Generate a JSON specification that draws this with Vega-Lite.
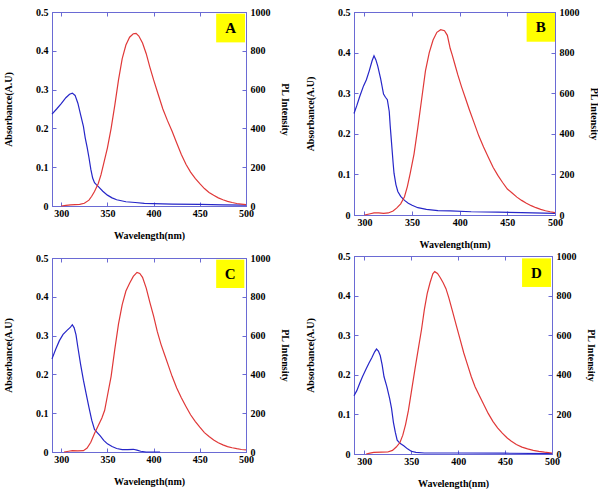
{
  "$schema": "https://vega.github.io/schema/vega-lite/v6.json",
  "padding": {"left": 3, "top": 6, "right": 0, "bottom": 0},
  "background": "white",
  "datasets": {
    "absA": [
      {"wl": 290, "abs": 0.237}, {"wl": 295, "abs": 0.25}, {"wl": 300, "abs": 0.264}, {"wl": 305, "abs": 0.279},
      {"wl": 309, "abs": 0.288}, {"wl": 312, "abs": 0.291}, {"wl": 315, "abs": 0.285}, {"wl": 318, "abs": 0.265},
      {"wl": 321, "abs": 0.235}, {"wl": 324, "abs": 0.205}, {"wl": 326, "abs": 0.175}, {"wl": 328, "abs": 0.152},
      {"wl": 330, "abs": 0.125}, {"wl": 332, "abs": 0.095}, {"wl": 334, "abs": 0.072}, {"wl": 336, "abs": 0.06},
      {"wl": 338, "abs": 0.055}, {"wl": 341, "abs": 0.048}, {"wl": 345, "abs": 0.038}, {"wl": 350, "abs": 0.028},
      {"wl": 355, "abs": 0.021}, {"wl": 360, "abs": 0.016}, {"wl": 370, "abs": 0.011}, {"wl": 380, "abs": 0.009},
      {"wl": 390, "abs": 0.007}, {"wl": 400, "abs": 0.006}, {"wl": 420, "abs": 0.005}, {"wl": 450, "abs": 0.004},
      {"wl": 475, "abs": 0.003}, {"wl": 500, "abs": 0.002}
    ],
    "plA": [
      {"wl": 300, "pl": 0}, {"wl": 305, "pl": 3}, {"wl": 310, "pl": 6}, {"wl": 315, "pl": 7}, {"wl": 320, "pl": 8},
      {"wl": 325, "pl": 14}, {"wl": 330, "pl": 30}, {"wl": 333, "pl": 50}, {"wl": 336, "pl": 75}, {"wl": 340, "pl": 115},
      {"wl": 343, "pl": 160}, {"wl": 346, "pl": 220}, {"wl": 350, "pl": 300}, {"wl": 354, "pl": 400}, {"wl": 358, "pl": 520},
      {"wl": 362, "pl": 650}, {"wl": 366, "pl": 760}, {"wl": 370, "pl": 830}, {"wl": 374, "pl": 870}, {"wl": 378, "pl": 888},
      {"wl": 381, "pl": 890}, {"wl": 384, "pl": 876}, {"wl": 388, "pl": 840}, {"wl": 392, "pl": 785}, {"wl": 396, "pl": 715},
      {"wl": 400, "pl": 650}, {"wl": 405, "pl": 575}, {"wl": 410, "pl": 500}, {"wl": 415, "pl": 440}, {"wl": 420, "pl": 385},
      {"wl": 425, "pl": 325}, {"wl": 430, "pl": 265}, {"wl": 435, "pl": 215}, {"wl": 440, "pl": 175}, {"wl": 445, "pl": 142},
      {"wl": 450, "pl": 115}, {"wl": 455, "pl": 90}, {"wl": 460, "pl": 70}, {"wl": 465, "pl": 55}, {"wl": 470, "pl": 42},
      {"wl": 475, "pl": 32}, {"wl": 480, "pl": 24}, {"wl": 485, "pl": 18}, {"wl": 490, "pl": 13}, {"wl": 495, "pl": 10},
      {"wl": 500, "pl": 7}
    ],
    "absB": [
      {"wl": 289, "abs": 0.25}, {"wl": 292, "abs": 0.27}, {"wl": 295, "abs": 0.292}, {"wl": 299, "abs": 0.318},
      {"wl": 302, "abs": 0.333}, {"wl": 305, "abs": 0.355}, {"wl": 308, "abs": 0.38}, {"wl": 310, "abs": 0.392},
      {"wl": 312, "abs": 0.382}, {"wl": 314, "abs": 0.366}, {"wl": 317, "abs": 0.335}, {"wl": 320, "abs": 0.298},
      {"wl": 322, "abs": 0.29}, {"wl": 324, "abs": 0.284}, {"wl": 326, "abs": 0.255}, {"wl": 327, "abs": 0.22},
      {"wl": 328, "abs": 0.19}, {"wl": 329, "abs": 0.16}, {"wl": 330, "abs": 0.13}, {"wl": 331, "abs": 0.103},
      {"wl": 333, "abs": 0.075}, {"wl": 335, "abs": 0.058}, {"wl": 338, "abs": 0.046}, {"wl": 342, "abs": 0.036},
      {"wl": 346, "abs": 0.029}, {"wl": 350, "abs": 0.024}, {"wl": 356, "abs": 0.018}, {"wl": 365, "abs": 0.014},
      {"wl": 377, "abs": 0.011}, {"wl": 390, "abs": 0.01}, {"wl": 412, "abs": 0.008}, {"wl": 440, "abs": 0.007},
      {"wl": 465, "abs": 0.006}, {"wl": 500, "abs": 0.004}
    ],
    "plB": [
      {"wl": 300, "pl": 0}, {"wl": 305, "pl": 5}, {"wl": 310, "pl": 10}, {"wl": 315, "pl": 10}, {"wl": 320, "pl": 8},
      {"wl": 325, "pl": 10}, {"wl": 330, "pl": 20}, {"wl": 334, "pl": 35}, {"wl": 338, "pl": 55}, {"wl": 342, "pl": 90},
      {"wl": 345, "pl": 140}, {"wl": 348, "pl": 205}, {"wl": 352, "pl": 300}, {"wl": 356, "pl": 430}, {"wl": 360, "pl": 570},
      {"wl": 364, "pl": 710}, {"wl": 368, "pl": 800}, {"wl": 372, "pl": 862}, {"wl": 376, "pl": 900}, {"wl": 380, "pl": 913},
      {"wl": 384, "pl": 908}, {"wl": 387, "pl": 885}, {"wl": 390, "pl": 820}, {"wl": 392, "pl": 790}, {"wl": 395, "pl": 740},
      {"wl": 398, "pl": 690}, {"wl": 402, "pl": 630}, {"wl": 406, "pl": 575}, {"wl": 410, "pl": 520}, {"wl": 415, "pl": 455},
      {"wl": 420, "pl": 390}, {"wl": 425, "pl": 335}, {"wl": 430, "pl": 285}, {"wl": 435, "pl": 235}, {"wl": 440, "pl": 195},
      {"wl": 445, "pl": 160}, {"wl": 450, "pl": 128}, {"wl": 455, "pl": 108}, {"wl": 460, "pl": 88}, {"wl": 465, "pl": 72},
      {"wl": 470, "pl": 58}, {"wl": 475, "pl": 46}, {"wl": 480, "pl": 36}, {"wl": 485, "pl": 28}, {"wl": 490, "pl": 21},
      {"wl": 495, "pl": 16}, {"wl": 500, "pl": 12}
    ],
    "absC": [
      {"wl": 290, "abs": 0.24}, {"wl": 294, "abs": 0.265}, {"wl": 298, "abs": 0.287}, {"wl": 302, "abs": 0.303},
      {"wl": 306, "abs": 0.313}, {"wl": 310, "abs": 0.322}, {"wl": 312, "abs": 0.328}, {"wl": 314, "abs": 0.32},
      {"wl": 316, "abs": 0.302}, {"wl": 318, "abs": 0.27}, {"wl": 321, "abs": 0.225}, {"wl": 324, "abs": 0.185},
      {"wl": 327, "abs": 0.15}, {"wl": 330, "abs": 0.115}, {"wl": 333, "abs": 0.082}, {"wl": 336, "abs": 0.058},
      {"wl": 339, "abs": 0.05}, {"wl": 342, "abs": 0.042}, {"wl": 346, "abs": 0.03}, {"wl": 350, "abs": 0.021},
      {"wl": 355, "abs": 0.014}, {"wl": 360, "abs": 0.009}, {"wl": 366, "abs": 0.006}, {"wl": 372, "abs": 0.006},
      {"wl": 378, "abs": 0.007}, {"wl": 382, "abs": 0.005}, {"wl": 386, "abs": 0.002}, {"wl": 392, "abs": 0.0},
      {"wl": 400, "abs": 0.0}, {"wl": 407, "abs": 0.0}
    ],
    "plC": [
      {"wl": 303, "pl": 0}, {"wl": 308, "pl": 4}, {"wl": 312, "pl": 7}, {"wl": 318, "pl": 6}, {"wl": 324, "pl": 7},
      {"wl": 328, "pl": 20}, {"wl": 332, "pl": 50}, {"wl": 336, "pl": 95}, {"wl": 340, "pl": 135}, {"wl": 344, "pl": 175},
      {"wl": 347, "pl": 215}, {"wl": 350, "pl": 290}, {"wl": 354, "pl": 390}, {"wl": 358, "pl": 530}, {"wl": 362, "pl": 660},
      {"wl": 366, "pl": 760}, {"wl": 370, "pl": 830}, {"wl": 374, "pl": 870}, {"wl": 378, "pl": 905}, {"wl": 382, "pl": 926},
      {"wl": 385, "pl": 920}, {"wl": 388, "pl": 900}, {"wl": 392, "pl": 845}, {"wl": 396, "pl": 770}, {"wl": 400, "pl": 700},
      {"wl": 404, "pl": 620}, {"wl": 408, "pl": 555}, {"wl": 412, "pl": 500}, {"wl": 416, "pl": 445}, {"wl": 420, "pl": 390},
      {"wl": 425, "pl": 330}, {"wl": 430, "pl": 280}, {"wl": 435, "pl": 235}, {"wl": 440, "pl": 192}, {"wl": 445, "pl": 158},
      {"wl": 450, "pl": 128}, {"wl": 455, "pl": 100}, {"wl": 460, "pl": 80}, {"wl": 465, "pl": 62}, {"wl": 470, "pl": 48},
      {"wl": 475, "pl": 37}, {"wl": 480, "pl": 28}, {"wl": 485, "pl": 22}, {"wl": 490, "pl": 17}, {"wl": 495, "pl": 13},
      {"wl": 500, "pl": 11}
    ],
    "absD": [
      {"wl": 289, "abs": 0.147}, {"wl": 292, "abs": 0.16}, {"wl": 295, "abs": 0.178}, {"wl": 298, "abs": 0.195},
      {"wl": 302, "abs": 0.215}, {"wl": 305, "abs": 0.23}, {"wl": 308, "abs": 0.243}, {"wl": 311, "abs": 0.258},
      {"wl": 313, "abs": 0.265}, {"wl": 315, "abs": 0.26}, {"wl": 317, "abs": 0.248}, {"wl": 319, "abs": 0.225},
      {"wl": 321, "abs": 0.195}, {"wl": 324, "abs": 0.17}, {"wl": 327, "abs": 0.14}, {"wl": 329, "abs": 0.115},
      {"wl": 331, "abs": 0.08}, {"wl": 333, "abs": 0.055}, {"wl": 335, "abs": 0.035}, {"wl": 338, "abs": 0.027},
      {"wl": 342, "abs": 0.021}, {"wl": 346, "abs": 0.013}, {"wl": 350, "abs": 0.007}, {"wl": 355, "abs": 0.004},
      {"wl": 364, "abs": 0.0025}, {"wl": 400, "abs": 0.0025}, {"wl": 450, "abs": 0.002}, {"wl": 500, "abs": 0.001}
    ],
    "plD": [
      {"wl": 302, "pl": 0}, {"wl": 306, "pl": 4}, {"wl": 310, "pl": 8}, {"wl": 318, "pl": 9}, {"wl": 325, "pl": 10},
      {"wl": 330, "pl": 18}, {"wl": 334, "pl": 35}, {"wl": 338, "pl": 58}, {"wl": 341, "pl": 95}, {"wl": 344, "pl": 150},
      {"wl": 347, "pl": 220}, {"wl": 350, "pl": 310}, {"wl": 354, "pl": 430}, {"wl": 358, "pl": 545}, {"wl": 361, "pl": 630},
      {"wl": 364, "pl": 730}, {"wl": 367, "pl": 810}, {"wl": 370, "pl": 865}, {"wl": 373, "pl": 910}, {"wl": 375, "pl": 921},
      {"wl": 378, "pl": 912}, {"wl": 381, "pl": 890}, {"wl": 384, "pl": 865}, {"wl": 387, "pl": 835}, {"wl": 390, "pl": 790},
      {"wl": 394, "pl": 720}, {"wl": 398, "pl": 650}, {"wl": 402, "pl": 580}, {"wl": 406, "pl": 510}, {"wl": 410, "pl": 450},
      {"wl": 414, "pl": 390}, {"wl": 418, "pl": 340}, {"wl": 422, "pl": 300}, {"wl": 427, "pl": 252}, {"wl": 432, "pl": 205},
      {"wl": 437, "pl": 165}, {"wl": 442, "pl": 132}, {"wl": 447, "pl": 105}, {"wl": 452, "pl": 82}, {"wl": 456, "pl": 67},
      {"wl": 462, "pl": 48}, {"wl": 468, "pl": 35}, {"wl": 474, "pl": 26}, {"wl": 480, "pl": 18}, {"wl": 486, "pl": 13},
      {"wl": 492, "pl": 9}, {"wl": 500, "pl": 5}
    ]
  },
  "hconcat": [
    {
      "vconcat": [
        {
          "width": 194, "height": 194,
          "layer": [
            {
              "layer": [
                {
                  "data": {"name": "absA"},
                  "mark": {"type": "line", "color": "#2626c8", "strokeWidth": 1.2},
                  "encoding": {
                    "x": {"field": "wl", "type": "quantitative", "scale": {"domain": [290, 500], "nice": false, "zero": false},
                          "axis": {"orient": "bottom", "values": [300, 350, 400, 450, 500], "tickCount": 5, "title": "Wavelength(nm)"}},
                    "y": {"field": "abs", "type": "quantitative", "scale": {"domain": [0, 0.5], "nice": false},
                          "axis": {"orient": "left", "values": [0, 0.1, 0.2, 0.3, 0.4, 0.5], "tickCount": 6, "labelExpr": "datum.value == 0 ? '0' : format(datum.value, '.1f')", "title": "Absorbance(A.U)"}}
                  }
                },
                {
                  "data": {"values": [{}]},
                  "mark": {"type": "rect", "color": "#ffff00"},
                  "encoding": {
                    "x": {"datum": 467.7, "type": "quantitative", "title": "Wavelength(nm)"}, "x2": {"datum": 498.9},
                    "y": {"datum": 0.4217, "type": "quantitative", "title": "Absorbance(A.U)"}, "y2": {"datum": 0.4957}
                  }
                },
                {
                  "data": {"values": [{}]},
                  "mark": {"type": "text", "font": "Liberation Serif", "fontWeight": "bold", "fontSize": 15, "color": "black"},
                  "encoding": {
                    "x": {"datum": 483.3, "type": "quantitative", "title": "Wavelength(nm)"},
                    "y": {"datum": 0.4587, "type": "quantitative", "title": "Absorbance(A.U)"},
                    "text": {"value": "A"}
                  }
                }
              ]
            },
            {
              "data": {"name": "plA"},
              "mark": {"type": "line", "color": "#e03838", "strokeWidth": 1.2},
              "encoding": {
                "x": {"field": "wl", "type": "quantitative", "axis": {"orient": "top", "values": [300, 350, 400, 450, 500], "tickCount": 5, "labels": false, "title": null}},
                "y": {"field": "pl", "type": "quantitative", "scale": {"domain": [0, 1000], "nice": false},
                      "axis": {"orient": "right", "values": [0, 200, 400, 600, 800, 1000], "tickCount": 6, "format": "d", "title": "PL Intensity"}}
              }
            }
          ],
          "resolve": {"scale": {"y": "independent"}, "axis": {"y": "independent", "x": "independent"}}
        },
        {
          "width": 194, "height": 194,
          "layer": [
            {
              "layer": [
                {
                  "data": {"name": "absC"},
                  "mark": {"type": "line", "color": "#2626c8", "strokeWidth": 1.2},
                  "encoding": {
                    "x": {"field": "wl", "type": "quantitative", "scale": {"domain": [290, 500], "nice": false, "zero": false},
                          "axis": {"orient": "bottom", "values": [300, 350, 400, 450, 500], "tickCount": 5, "title": "Wavelength(nm)"}},
                    "y": {"field": "abs", "type": "quantitative", "scale": {"domain": [0, 0.5], "nice": false},
                          "axis": {"orient": "left", "values": [0, 0.1, 0.2, 0.3, 0.4, 0.5], "tickCount": 6, "labelExpr": "datum.value == 0 ? '0' : format(datum.value, '.1f')", "title": "Absorbance(A.U)"}}
                  }
                },
                {
                  "data": {"values": [{}]},
                  "mark": {"type": "rect", "color": "#ffff00"},
                  "encoding": {
                    "x": {"datum": 467.7, "type": "quantitative", "title": "Wavelength(nm)"}, "x2": {"datum": 498.2},
                    "y": {"datum": 0.4227, "type": "quantitative", "title": "Absorbance(A.U)"}, "y2": {"datum": 0.4957}
                  }
                },
                {
                  "data": {"values": [{}]},
                  "mark": {"type": "text", "font": "Liberation Serif", "fontWeight": "bold", "fontSize": 15, "color": "black"},
                  "encoding": {
                    "x": {"datum": 483, "type": "quantitative", "title": "Wavelength(nm)"},
                    "y": {"datum": 0.4592, "type": "quantitative", "title": "Absorbance(A.U)"},
                    "text": {"value": "C"}
                  }
                }
              ]
            },
            {
              "data": {"name": "plC"},
              "mark": {"type": "line", "color": "#e03838", "strokeWidth": 1.2},
              "encoding": {
                "x": {"field": "wl", "type": "quantitative", "axis": {"orient": "top", "values": [300, 350, 400, 450, 500], "tickCount": 5, "labels": false, "title": null}},
                "y": {"field": "pl", "type": "quantitative", "scale": {"domain": [0, 1000], "nice": false},
                      "axis": {"orient": "right", "values": [0, 200, 400, 600, 800, 1000], "tickCount": 6, "format": "d", "title": "PL Intensity"}}
              }
            }
          ],
          "resolve": {"scale": {"y": "independent"}, "axis": {"y": "independent", "x": "independent"}}
        }
      ],
      "spacing": 11
    },
    {
      "vconcat": [
        {
          "width": 201, "height": 203,
          "layer": [
            {
              "layer": [
                {
                  "data": {"name": "absB"},
                  "mark": {"type": "line", "color": "#2626c8", "strokeWidth": 1.2},
                  "encoding": {
                    "x": {"field": "wl", "type": "quantitative", "scale": {"domain": [289, 500], "nice": false, "zero": false},
                          "axis": {"orient": "bottom", "values": [300, 350, 400, 450, 500], "tickCount": 5, "title": "Wavelength(nm)"}},
                    "y": {"field": "abs", "type": "quantitative", "scale": {"domain": [0, 0.5], "nice": false},
                          "axis": {"orient": "left", "values": [0, 0.1, 0.2, 0.3, 0.4, 0.5], "tickCount": 6, "labelExpr": "datum.value == 0 ? '0' : format(datum.value, '.1f')", "title": "Absorbance(A.U)"}}
                  }
                },
                {
                  "data": {"values": [{}]},
                  "mark": {"type": "rect", "color": "#ffff00"},
                  "encoding": {
                    "x": {"datum": 470.2, "type": "quantitative", "title": "Wavelength(nm)"}, "x2": {"datum": 500},
                    "y": {"datum": 0.4268, "type": "quantitative", "title": "Absorbance(A.U)"}, "y2": {"datum": 0.4975}
                  }
                },
                {
                  "data": {"values": [{}]},
                  "mark": {"type": "text", "font": "Liberation Serif", "fontWeight": "bold", "fontSize": 15, "color": "black"},
                  "encoding": {
                    "x": {"datum": 485.1, "type": "quantitative", "title": "Wavelength(nm)"},
                    "y": {"datum": 0.4622, "type": "quantitative", "title": "Absorbance(A.U)"},
                    "text": {"value": "B"}
                  }
                }
              ]
            },
            {
              "data": {"name": "plB"},
              "mark": {"type": "line", "color": "#e03838", "strokeWidth": 1.2},
              "encoding": {
                "x": {"field": "wl", "type": "quantitative", "axis": {"orient": "top", "values": [300, 350, 400, 450, 500], "tickCount": 5, "labels": false, "title": null}},
                "y": {"field": "pl", "type": "quantitative", "scale": {"domain": [0, 1000], "nice": false},
                      "axis": {"orient": "right", "values": [0, 200, 400, 600, 800, 1000], "tickCount": 6, "format": "d", "title": "PL Intensity"}}
              }
            }
          ],
          "resolve": {"scale": {"y": "independent"}, "axis": {"y": "independent", "x": "independent"}}
        },
        {
          "width": 198, "height": 198,
          "layer": [
            {
              "layer": [
                {
                  "data": {"name": "absD"},
                  "mark": {"type": "line", "color": "#2626c8", "strokeWidth": 1.2},
                  "encoding": {
                    "x": {"field": "wl", "type": "quantitative", "scale": {"domain": [289, 500], "nice": false, "zero": false},
                          "axis": {"orient": "bottom", "values": [300, 350, 400, 450, 500], "tickCount": 5, "title": "Wavelength(nm)"}},
                    "y": {"field": "abs", "type": "quantitative", "scale": {"domain": [0, 0.5], "nice": false},
                          "axis": {"orient": "left", "values": [0, 0.1, 0.2, 0.3, 0.4, 0.5], "tickCount": 6, "labelExpr": "datum.value == 0 ? '0' : format(datum.value, '.1f')", "title": "Absorbance(A.U)"}}
                  }
                },
                {
                  "data": {"values": [{}]},
                  "mark": {"type": "rect", "color": "#ffff00"},
                  "encoding": {
                    "x": {"datum": 468.1, "type": "quantitative", "title": "Wavelength(nm)"}, "x2": {"datum": 498.9},
                    "y": {"datum": 0.4218, "type": "quantitative", "title": "Absorbance(A.U)"}, "y2": {"datum": 0.494}
                  }
                },
                {
                  "data": {"values": [{}]},
                  "mark": {"type": "text", "font": "Liberation Serif", "fontWeight": "bold", "fontSize": 15, "color": "black"},
                  "encoding": {
                    "x": {"datum": 483.5, "type": "quantitative", "title": "Wavelength(nm)"},
                    "y": {"datum": 0.4579, "type": "quantitative", "title": "Absorbance(A.U)"},
                    "text": {"value": "D"}
                  }
                }
              ]
            },
            {
              "data": {"name": "plD"},
              "mark": {"type": "line", "color": "#e03838", "strokeWidth": 1.2},
              "encoding": {
                "x": {"field": "wl", "type": "quantitative", "axis": {"orient": "top", "values": [300, 350, 400, 450, 500], "tickCount": 5, "labels": false, "title": null}},
                "y": {"field": "pl", "type": "quantitative", "scale": {"domain": [0, 1000], "nice": false},
                      "axis": {"orient": "right", "values": [0, 200, 400, 600, 800, 1000], "tickCount": 6, "format": "d", "title": "PL Intensity"}}
              }
            }
          ],
          "resolve": {"scale": {"y": "independent"}, "axis": {"y": "independent", "x": "independent"}}
        }
      ],
      "spacing": 0
    }
  ],
  "spacing": 15,
  "config": {
    "view": {"stroke": "#6a6ad4", "strokeWidth": 1},
    "axis": {
      "grid": false,
      "domainColor": "#6a6ad4",
      "domainWidth": 1,
      "tickColor": "#6a6ad4",
      "tickSize": -4,
      "tickWidth": 1,
      "labelPadding": 6,
      "labelOverlap": false,
      "labelFlush": false,
      "labelFont": "Liberation Serif",
      "labelFontWeight": "bold",
      "labelFontSize": 10,
      "labelColor": "black",
      "titleFont": "Liberation Serif",
      "titleFontWeight": "bold",
      "titleFontSize": 10,
      "titleColor": "black"
    },
    "axisY": {"labelPadding": 8},
    "axisLeft": {"titlePadding": 22},
    "axisRight": {"titlePadding": 9},
    "axisBottom": {"titlePadding": 12}
  }
}
